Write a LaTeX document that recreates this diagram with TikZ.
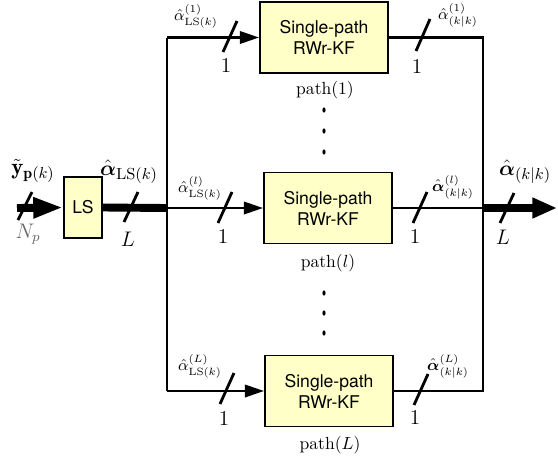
\documentclass[tikz,border=0pt]{standalone}
\usepackage{amsmath,amssymb}
\usepackage{fontspec}
\setsansfont{TeX Gyre Heros}
\usetikzlibrary{arrows,arrows.meta,positioning}
\definecolor{kfyellow}{RGB}{255,255,200}

\begin{document}
\begin{tikzpicture}[x=0.02cm,y=-0.02cm]
                \tikzstyle{kfbox}=[draw=black, line width=1pt, fill=kfyellow, minimum width=2.56cm, minimum height=1.42cm, align=center, font=\sffamily, inner sep=0pt]
                \tikzstyle{lsbox}=[draw=black, line width=1pt, fill=kfyellow, minimum width=0.76cm, minimum height=1.22cm, font=\sffamily, inner sep=0pt]
                \tikzstyle{bus}=[line width=1.6pt]
                \tikzstyle{fat}=[line width=4.5pt]
                \tikzstyle{slash}=[line width=1.6pt]
                \tikzstyle{branch}=[bus, -{Triangle[length=11pt, width=7pt]}]
                \tikzstyle{biglab}=[inner sep=0pt, font=\fontsize{13}{15}\selectfont]
                \useasboundingbox (0,0) rectangle (558,460);
                % blocks
                \node [lsbox] (ls) at (83,207.5) {LS};
                \node [kfbox] (kf1) at (324,37.5) {Single-path\\RWr-KF};
                \node [kfbox] (kfl) at (328,208) {Single-path\\RWr-KF};
                \node [kfbox] (kfL) at (329,391) {Single-path\\RWr-KF};
                \node (p1) at (325,90) {$\mathrm{path}(1)$};
                \node (pl) at (328,263) {$\mathrm{path}(l)$};
                \node (pL) at (330,445) {$\mathrm{path}(L)$};
                % corners of the two buses
                \coordinate (in) at (17,208);
                \coordinate (busl) at (167,208);
                \coordinate (bl1) at (167,37.5);
                \coordinate (blL) at (167,391);
                \coordinate (busr) at (483,208);
                \coordinate (br1) at (483,37.5);
                \coordinate (brL) at (483,391);
                \coordinate (out) at (557,208);
                % input side
                \draw [fat, -{Triangle[length=17pt, width=11pt]}] (in) -- (ls.west);
                \draw [fat] (ls.east) -- (busl);
                \draw [bus] (bl1) -- (blL);
                \draw [branch] (bl1) -- (kf1.west);
                \draw [branch] (busl) -- (kfl.west);
                \draw [branch] (blL) -- (kfL.west);
                % output side
                \draw [bus] (kf1.east) -- (br1) -- (brL) -- (kfL.east);
                \draw [bus] (kfl.east) -- (busr);
                \draw [fat, -{Triangle[length=14pt, width=11pt]}] (busr) -- (out);
                % slashes
                \draw [slash] (18,220) -- (32,192);
                \draw [slash] (124,222) -- (138,192);
                \draw [slash] (223,52) -- (237,21);
                \draw [slash] (218,223) -- (232,192);
                \draw [slash] (220,404) -- (234,373);
                \draw [slash] (416,51) -- (430,19);
                \draw [slash] (413,223) -- (427,192);
                \draw [slash] (414,405) -- (428,374);
                \draw [slash] (500,223) -- (514,193);
                % labels
                \node [biglab] (ylab) at (33,171) {$\tilde{\mathbf{y}}_{\mathbf{p}(k)}$};
                \node [black!60] (np) at (28,234) {\large $N_p$};
                \node [biglab] (alab) at (129,172) {$\hat{\boldsymbol{\alpha}}_{\mathrm{LS}(k)}$};
                \node (lin) at (128,239) {\large $L$};
                \node (a1) at (196,16) {\small $\hat{\alpha}^{(1)}_{\mathrm{LS}(k)}$};
                \node (al) at (200,188) {\small $\hat{\alpha}^{(l)}_{\mathrm{LS}(k)}$};
                \node (aL) at (200,366) {\small $\hat{\alpha}^{(L)}_{\mathrm{LS}(k)}$};
                \node (n1) at (226,66) {\large $1$};
                \node (nl) at (223,237) {\large $1$};
                \node (nL) at (224,419) {\large $1$};
                \node (o1) at (458,15) {\small $\hat{\alpha}^{(1)}_{(k|k)}$};
                \node (ol) at (453,187) {\small $\hat{\boldsymbol{\alpha}}^{(l)}_{(k|k)}$};
                \node (oL) at (448,366) {\small $\hat{\boldsymbol{\alpha}}^{(L)}_{(k|k)}$};
                \node (m1) at (417,67) {\large $1$};
                \node (ml) at (415,237) {\large $1$};
                \node (mL) at (415,418) {\large $1$};
                \node [biglab] (olab) at (525,172) {$\hat{\boldsymbol{\alpha}}_{(k|k)}$};
                \node (lout) at (503,237) {\large $L$};
                % dots
                \foreach \y in {110,131,152,293,313,333}
                    \fill (324,\y) ellipse (1.6 and 2.6);
\end{tikzpicture}
\end{document}
